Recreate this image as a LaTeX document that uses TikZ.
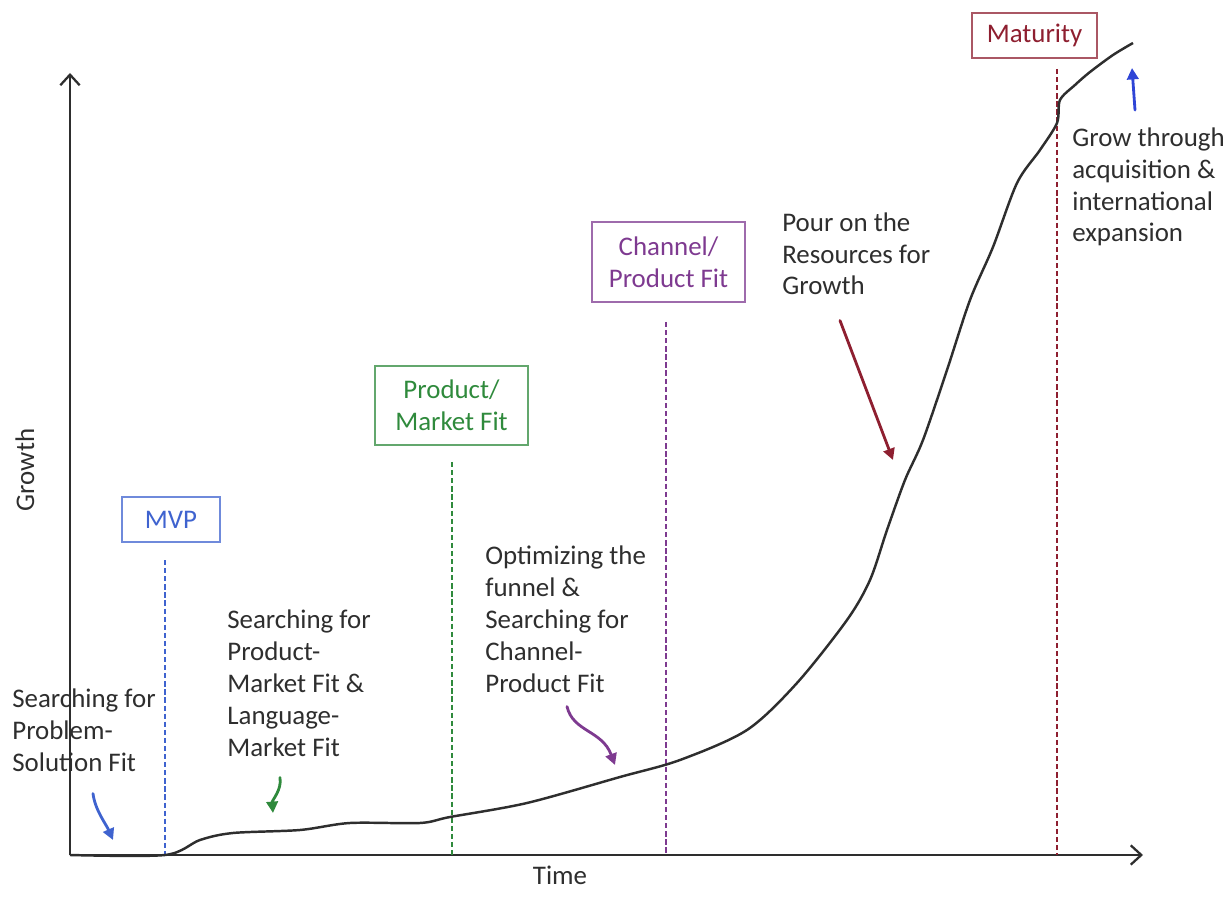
\documentclass[tikz,border=0pt]{standalone}
\usepackage{fontspec}
\setmainfont{Carlito}
\usetikzlibrary{arrows.meta,calc}
\definecolor{ink}{HTML}{2E2E2E}
\definecolor{mvp}{HTML}{3F63CF}
\definecolor{pmf}{HTML}{2F8A3C}
\definecolor{cpf}{HTML}{7E3A90}
\definecolor{mat}{HTML}{8E1F30}
\definecolor{up}{HTML}{2F45D6}
\tikzset{
  every node/.style={font=\fontsize{15.3}{18.1}\selectfont, text=ink},
  axis/.style={draw=ink, line width=1.5pt, -{Straight Barb[length=6pt,width=11pt,line width=1.3pt]}},
  stage/.style={draw=#1!75, line width=0.8pt, text=#1, align=center, inner sep=2pt},
  gate/.style={draw=#1, line width=1.1pt, dash pattern=on 3pt off 1.6pt},
  note/.style={align=left, anchor=base west, inner sep=0pt},
  hint/.style={draw=#1, line width=1.6pt, line cap=round, -{Triangle[length=6.5pt,width=6.5pt]}},
}

\begin{document}
\begin{tikzpicture}
\useasboundingbox (-1.40,-1.16) rectangle (23.24,17.10);

% axes
\coordinate (o) at (0,0);
\coordinate (ytip) at (0,15.64);
\coordinate (xtip) at (21.46,0);
\draw[axis] (o) -- (ytip);
\draw[axis] (o) -- (xtip);
\node[rotate=90] (ylab) at (-0.90,7.70) {Growth};
\node (xlab) at (9.80,-0.40) {Time};

% stage boxes and their dashed markers
\node[stage=mvp, minimum width=1.96cm, minimum height=0.90cm] (mvpbox) at (2.02,6.71) {MVP};
\node[stage=pmf, minimum width=3.06cm, minimum height=1.58cm] (pmfbox) at (7.63,8.99) {Product/\\Market Fit};
\node[stage=cpf, minimum width=3.06cm, minimum height=1.60cm] (cpfbox) at (11.97,11.86) {Channel/\\Product Fit};
\node[stage=mat, minimum width=2.50cm, minimum height=0.90cm] (matbox) at (19.29,16.39) {Maturity};

\foreach \x/\top/\c in {1.90/5.90/mvp, 7.64/7.86/pmf, 11.92/10.66/cpf, 19.74/15.72/mat}
  \draw[gate=\c] (\x,\top) -- (\x,0);

% growth curve
\draw[ink, line width=1.4pt, line join=round] plot[smooth, tension=0.5] coordinates {
  (0,0) (1.90,0) (2.60,0.30) (3.26,0.44) (4.60,0.50) (5.60,0.64) (7.00,0.64)
  (7.60,0.76) (9.14,1.04) (11.00,1.56) (12.20,1.90) (13.54,2.50) (14.54,3.44)
  (15.54,4.70) (16.00,5.50) (16.34,6.50) (16.70,7.50) (17.06,8.30) (17.54,9.70)
  (18.00,11.10) (18.46,12.16) (18.94,13.44) (19.40,14.10) (19.74,14.64)
  (19.80,15.10) (20.10,15.40) (20.40,15.66) (20.86,16.00) (21.26,16.24)};

% notes along the curve (base = last line)
\node[note] (psfit) at (-1.16,1.68) {Searching for\\Problem-\\Solution Fit};
\node[note] (pmsearch) at (3.14,1.98) {Searching for\\Product-\\Market Fit \&\\Language-\\Market Fit};
\node[note] (funnel) at (8.30,3.26) {Optimizing the\\funnel \&\\Searching for\\Channel-\\Product Fit};
\node[note] (pour) at (14.24,11.20) {Pour on the\\Resources for\\Growth};
\node[note] (grow) at (20.04,12.26) {Grow through\\acquisition \&\\international\\expansion};

% pointers onto the curve
\coordinate (psend) at (0.86,0.30);
\coordinate (pmend) at (4.06,0.84);
\coordinate (fnend) at (10.90,1.80);
\coordinate (prend) at (16.46,7.90);
\coordinate (grend) at (21.24,15.74);

\draw[hint=mvp] ($(psfit.south west)+(1.62,-0.44)$) .. controls (0.50,0.90) and (0.72,0.62) .. (psend);
\draw[hint=pmf] ($(pmsearch.south west)+(1.06,-0.42)$) .. controls (4.24,1.30) and (4.04,1.10) .. (pmend);
\draw[hint=cpf] ($(funnel.south west)+(1.64,-0.28)$) .. controls (10.06,2.46) and (10.64,2.50) .. (fnend);
\draw[hint=mat] ($(pour.south west)+(1.16,-0.50)$) -- (prend);
\draw[hint=up] ($(grow.north west)+(1.26,0.35)$) -- (grend);

\end{tikzpicture}
\end{document}
